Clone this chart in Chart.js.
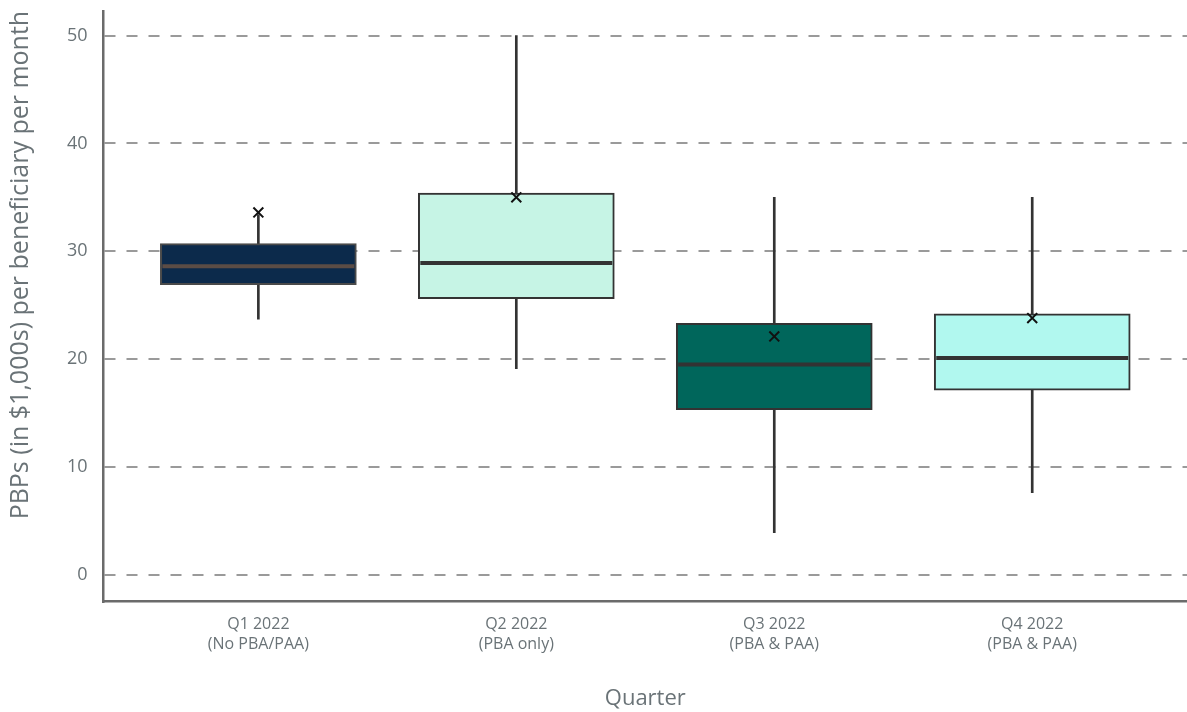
<!DOCTYPE html>
<html>
<head>
<meta charset="utf-8">
<script src="https://cdn.jsdelivr.net/npm/chart.js@4.4.1/dist/chart.umd.min.js"></script>
<style>
  html, body { margin: 0; padding: 0; background: #fff; }
  #wrap { width: 1187px; height: 712px; }
</style>
</head>
<body>
<div id="wrap"><canvas id="boxChart"></canvas></div>
<script>
// Quarter categories (two-line tick labels)
const quarters = [
  ['Q1 2022', '(No PBA/PAA)'],
  ['Q2 2022', '(PBA only)'],
  ['Q3 2022', '(PBA & PAA)'],
  ['Q4 2022', '(PBA & PAA)']
];
const positions = [1, 2, 3, 4];

// Box plot statistics ($1,000s)
const whiskerLow  = [23.7, 19.1, 3.9, 7.6];
const whiskerHigh = [33.4, 50.0, 35.0, 35.0];
const q1Values    = [26.9, 25.6, 15.3, 17.1];
const q3Values    = [30.7, 35.4, 23.3, 24.2];
const medians     = [28.6, 28.9, 19.5, 20.1];
const means       = [33.6, 35.0, 22.1, 23.8];

const yTicks = [0, 10, 20, 30, 40, 50];

const boxColors = ['#0c2a4b', '#c6f4e5', '#00665b', '#b1f8ef'];
const boxBorders = ['#4a4a4a', '#333333', '#333333', '#333333'];
const medianColors = ['#5b4c45', '#333333', '#333333', '#333333'];

const textColor = '#6a7377';

new Chart(document.getElementById('boxChart'), {
  data: {
    datasets: [
      {
        type: 'bar',
        label: 'whiskers',
        data: positions.map((x, i) => ({ x: x, y: [whiskerLow[i], whiskerHigh[i]] })),
        backgroundColor: '#333333',
        barThickness: 2,
        grouped: false,
        order: 4
      },
      {
        type: 'bar',
        label: 'boxes',
        data: positions.map((x, i) => ({ x: x, y: [q1Values[i], q3Values[i]] })),
        backgroundColor: boxColors,
        borderColor: boxBorders,
        borderWidth: 2,
        borderSkipped: false,
        barThickness: 196,
        grouped: false,
        order: 3
      },
      {
        type: 'scatter',
        label: 'median',
        data: positions.map((x, i) => ({ x: x, y: medians[i] })),
        pointStyle: 'line',
        pointRadius: 96,
        borderColor: medianColors,
        borderWidth: 4,
        order: 2
      },
      {
        type: 'scatter',
        label: 'mean',
        data: positions.map((x, i) => ({ x: x, y: means[i] })),
        pointStyle: 'crossRot',
        pointRadius: 7,
        borderColor: '#111111',
        borderWidth: 2,
        order: 1
      }
    ]
  },
  options: {
    responsive: true,
    maintainAspectRatio: false,
    animation: false,
    layout: { autoPadding: false, padding: { top: 0, right: 0, left: 6, bottom: 0 } },
    plugins: {
      legend: { display: false },
      tooltip: { enabled: false }
    },
    scales: {
      x: {
        type: 'linear',
        offset: false,
        min: 0.4,
        max: 4.6,
        afterBuildTicks: axis => { axis.ticks = positions.map(v => ({ value: v })); },
        ticks: {
          callback: v => quarters[v - 1],
          color: textColor,
          font: { family: 'Open Sans', size: 16, lineHeight: 1.25 },
          padding: 5,
          maxRotation: 0
        },
        grid: { display: false },
        border: { display: true, color: '#6b6b6b', width: 2.5 },
        title: {
          display: true,
          text: 'Quarter',
          color: textColor,
          font: { family: 'Open Sans', size: 22 },
          padding: { top: 26, bottom: 0 }
        }
      },
      y: {
        type: 'linear',
        min: -2.5,
        max: 52.3,
        afterBuildTicks: axis => { axis.ticks = yTicks.map(v => ({ value: v })); },
        ticks: {
          color: textColor,
          font: { family: 'Open Sans', size: 18 },
          padding: 0
        },
        grid: {
          color: '#9a9a9a',
          lineWidth: 2,
          drawTicks: true,
          tickLength: 16,
          tickColor: 'transparent'
        },
        border: { display: true, color: '#6b6b6b', width: 2.5, dash: [11, 11] },
        title: {
          display: true,
          align: 'end',
          text: 'PBPs (in $1,000s) per beneficiary per month',
          color: textColor,
          font: { family: 'Open Sans', size: 25 },
          padding: { top: 0, bottom: 31 }
        }
      }
    }
  }
});
</script>
</body>
</html>
